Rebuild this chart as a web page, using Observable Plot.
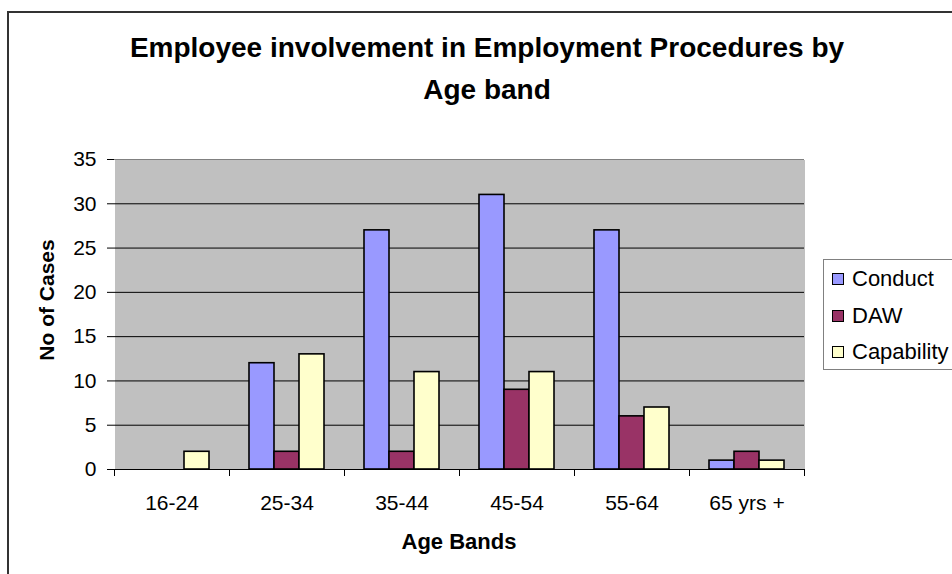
<!DOCTYPE html>
<html><head><meta charset="utf-8">
<script src="https://cdn.jsdelivr.net/npm/d3@7"></script>
<script src="https://cdn.jsdelivr.net/npm/@observablehq/plot@0.6"></script>
<style>
html,body{margin:0;padding:0;background:#fff;overflow:hidden;}
#wrap{position:relative;width:952px;height:574px;overflow:hidden;font-family:"Liberation Sans",Arial,sans-serif;color:#000;}
#chart{position:absolute;left:0;top:0;}
#border{position:absolute;left:7px;top:11px;width:1000px;height:700px;border:2px solid #333;pointer-events:none;}
#title{position:absolute;left:8px;width:958px;top:27px;text-align:center;font-weight:bold;font-size:28px;line-height:42px;}
#ytitle{position:absolute;left:46px;top:300px;transform:translate(-50%,-50%) rotate(-90deg);font-weight:bold;font-size:21px;white-space:nowrap;line-height:21px;}
#xtitle{position:absolute;left:459px;top:531px;transform:translateX(-50%);font-weight:bold;font-size:22px;white-space:nowrap;line-height:22px;}
#legend{position:absolute;left:823px;top:259px;width:160px;height:109px;border:1px solid #808080;background:#fff;}
.li{position:absolute;left:8px;height:12px;}
.sw{position:absolute;left:0;top:0;width:10px;height:10px;border:1px solid #000;}
.lt{position:absolute;left:20px;top:6px;transform:translateY(-50%);font-size:22px;line-height:22px;white-space:nowrap;}
</style>
</head>
<body>
<div id="wrap">
  <div id="chart"></div>
  <div id="border"></div>
  <div id="title"></div>
  <div id="ytitle"></div>
  <div id="xtitle"></div>
  <div id="legend"></div>
</div>
<script>
const titleLines = ["Employee involvement in Employment Procedures by", "Age band"];
const yTitle = "No of Cases";
const xTitle = "Age Bands";
const bands = ["16-24", "25-34", "35-44", "45-54", "55-64", "65 yrs +"];
const series = ["Conduct", "DAW", "Capability"];
const conduct = [0, 12, 27, 31, 27, 1];
const daw = [0, 2, 2, 9, 6, 2];
const capability = [2, 13, 11, 11, 7, 1];
const colors = ["#9999FF", "#993366", "#FFFFCC"];
const yTicks = [0, 5, 10, 15, 20, 25, 30, 35];

const seriesValues = [conduct, daw, capability];
const rows = [];
bands.forEach((b, i) => seriesValues.forEach((arr, j) => rows.push({band: b, series: series[j], value: arr[i]})));

const W = 952, H = 574, ml = 114, mr = 148, mt = 159, mb = 105;
const step = (W - ml - mr) / bands.length;

const chart = Plot.plot({
  width: W, height: H,
  marginLeft: ml, marginRight: mr, marginTop: mt, marginBottom: mb,
  style: {fontFamily: '"Liberation Sans", Arial, sans-serif', fontSize: "21px", color: "black", background: "transparent"},
  fx: {domain: bands, padding: 0, label: null, axis: null},
  x: {domain: series, paddingInner: 0, paddingOuter: 0.75, axis: null},
  y: {domain: [0, 35], axis: null},
  color: {domain: series, range: colors},
  marks: [
    Plot.frame({fill: "#C0C0C0", stroke: null, shapeRendering: "crispEdges"}),
    Plot.gridY(yTicks.filter(t => t > 0 && t < 35), {stroke: "black", strokeOpacity: 1}),
    Plot.ruleY([35], {stroke: "#808080"}),
    Plot.barY(rows.filter(d => d.value > 0), {fx: "band", x: "series", y: "value", fill: "series", stroke: "black", strokeWidth: 1.6}),
    Plot.ruleY([0], {stroke: "black"}),
    Plot.axisY(yTicks, {tickSize: 7, tickPadding: 11, fontSize: 21, label: null, line: true, strokeOpacity: 1}),
    Plot.axisY([], {anchor: "right", line: true, stroke: "#808080", label: null, tickSize: 0}),
    Plot.axisFx({anchor: "bottom", tickSize: 0, tickPadding: 26, fontSize: 21, label: null}),
    Plot.axisFx({anchor: "bottom", tickSize: 7, tickFormat: () => "", label: null, dx: -step / 2, strokeOpacity: 1}),
    Plot.axisFx([bands[bands.length - 1]], {anchor: "bottom", tickSize: 7, tickFormat: () => "", label: null, dx: step / 2, strokeOpacity: 1})
  ]
});
document.getElementById("chart").appendChild(chart);

document.getElementById("title").innerHTML = titleLines.join("<br>");
document.getElementById("ytitle").textContent = yTitle;
document.getElementById("xtitle").textContent = xTitle;

const legend = document.getElementById("legend");
series.forEach((s, i) => {
  const item = document.createElement("div");
  item.className = "li";
  item.style.top = (13 + i * 36.7) + "px";
  const sw = document.createElement("div");
  sw.className = "sw";
  sw.style.background = colors[i];
  const t = document.createElement("div");
  t.className = "lt";
  t.textContent = s;
  item.appendChild(sw);
  item.appendChild(t);
  legend.appendChild(item);
});
</script>
</body></html>
